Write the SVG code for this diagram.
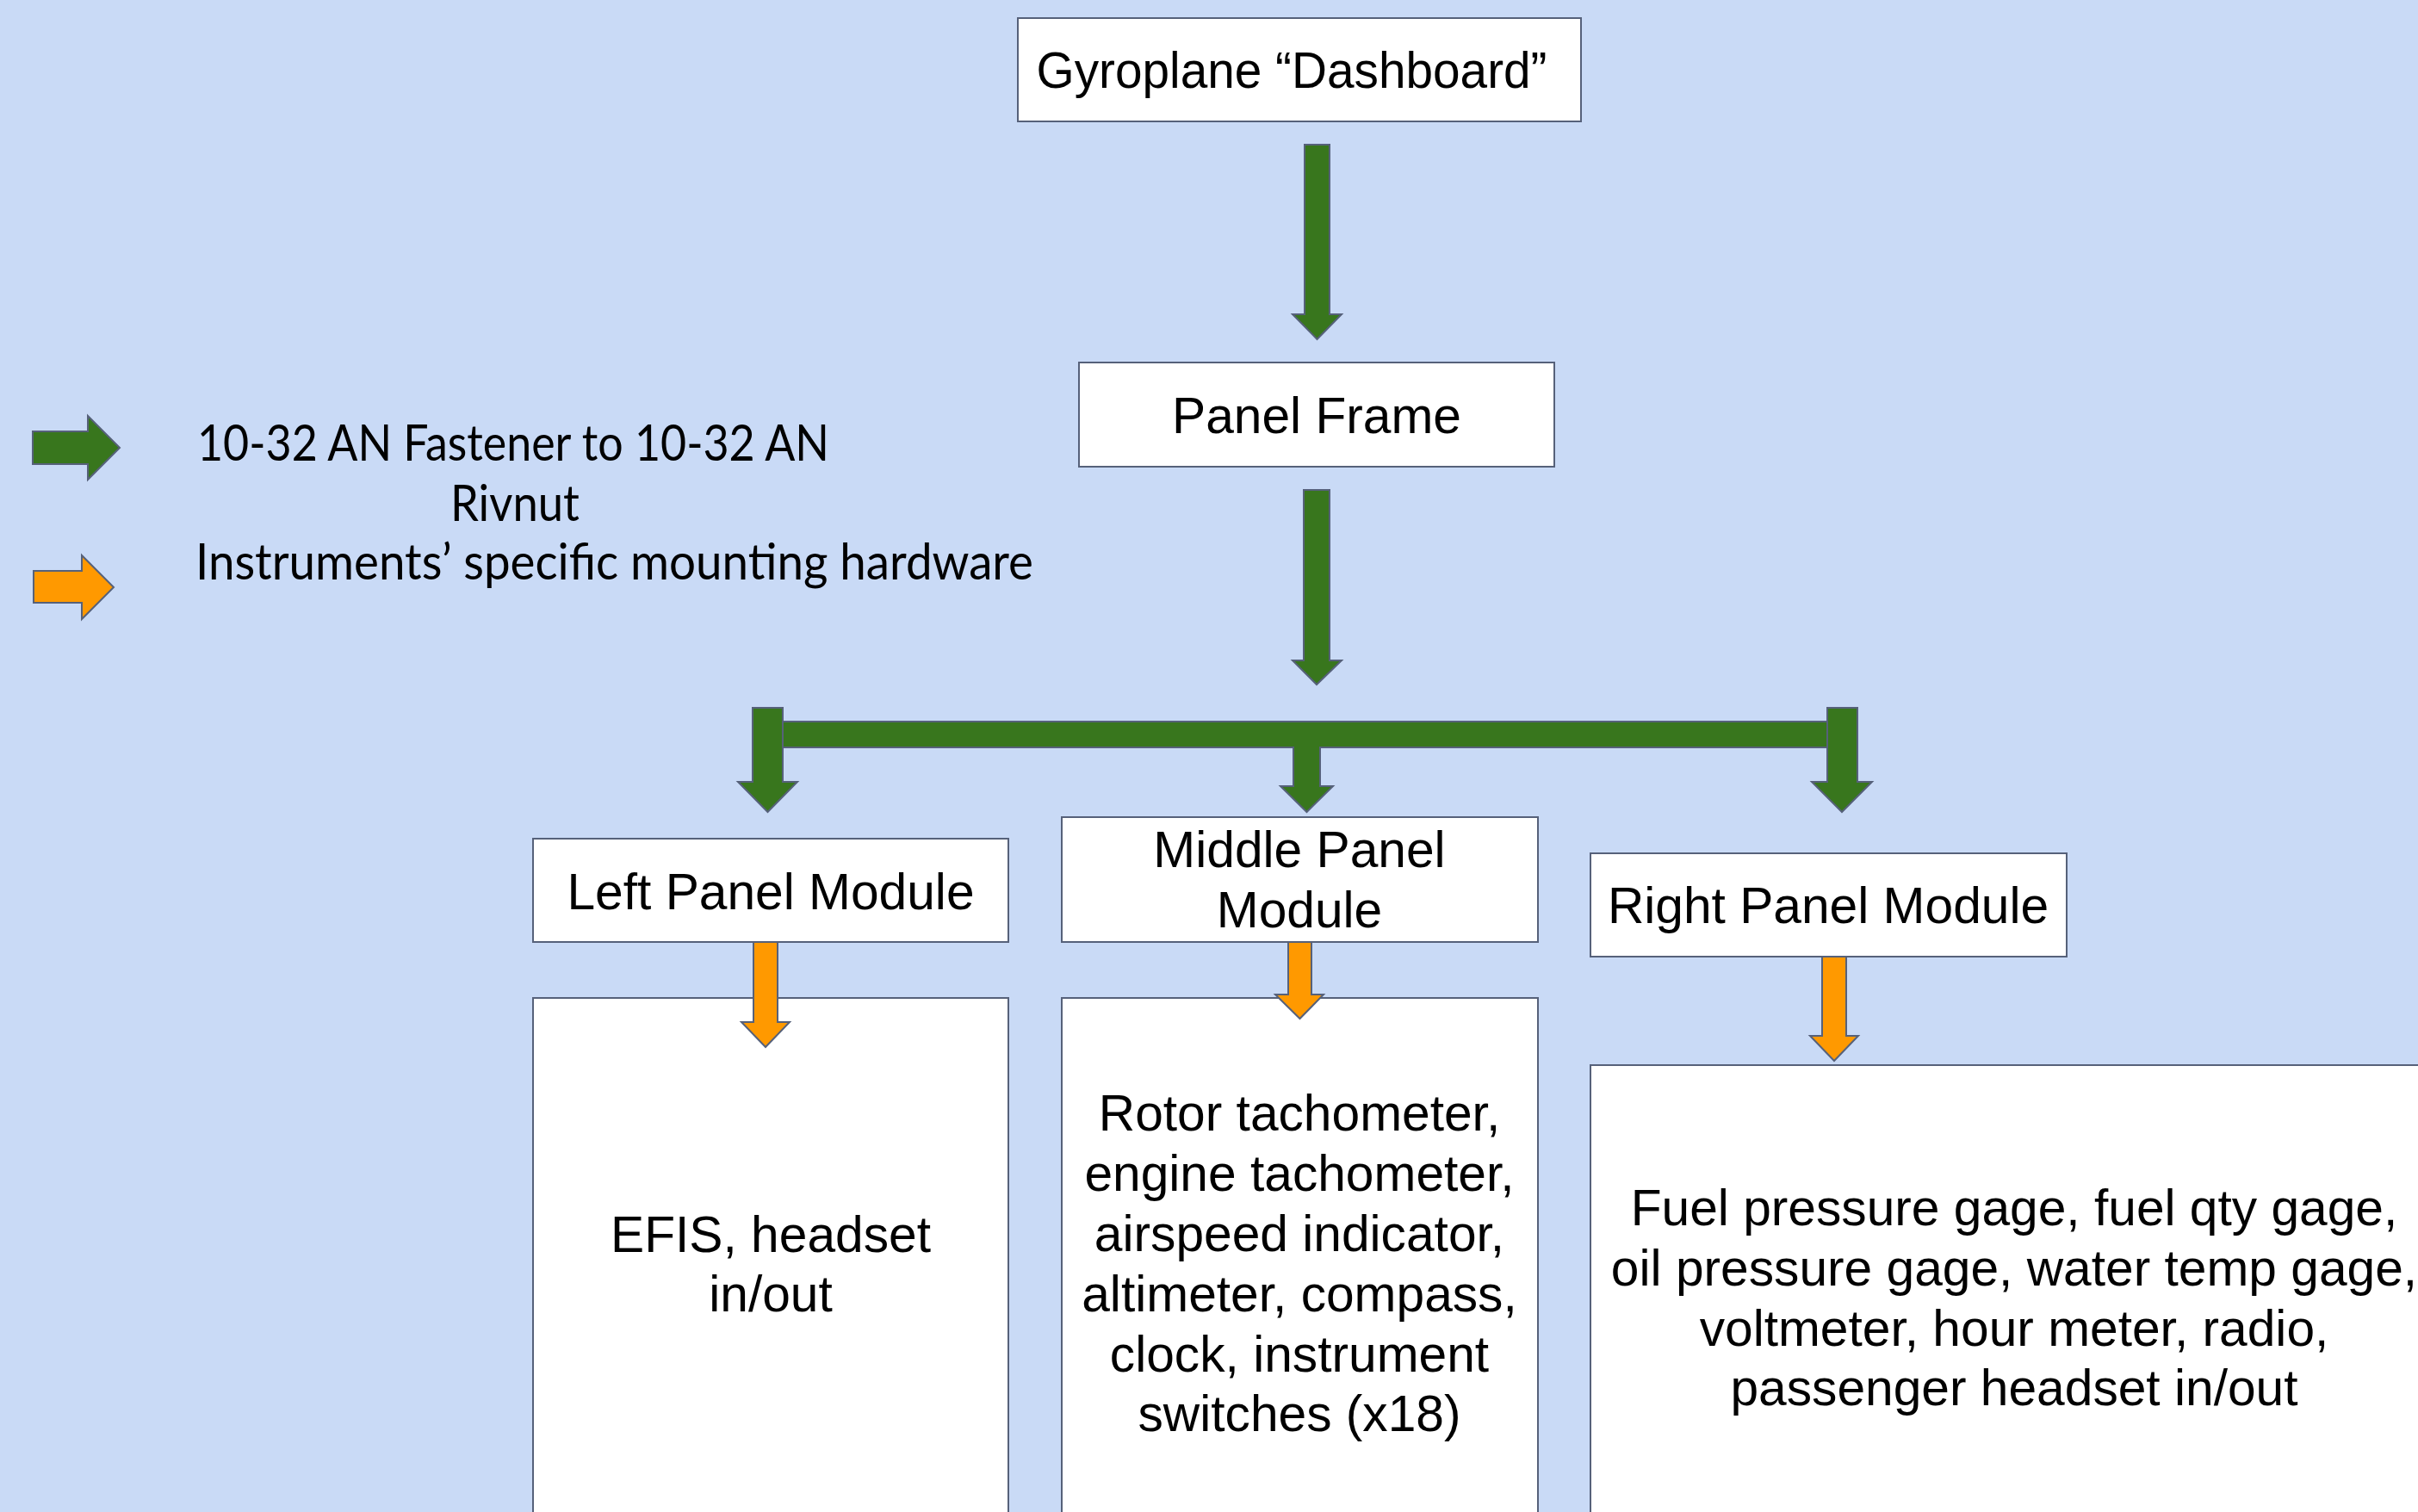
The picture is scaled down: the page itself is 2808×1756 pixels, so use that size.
<svg xmlns="http://www.w3.org/2000/svg" width="2808" height="1756" viewBox="0 0 2808 1756">
  <style>
    .box { fill: #ffffff; stroke: #56617a; stroke-width: 2; }
    .lbl { font-family: "Liberation Sans", Arial, sans-serif; font-size: 58.7px; fill: #000000; text-anchor: middle; }
    .leg { font-family: Lato, "Open Sans", sans-serif; font-size: 58px; fill: #000000; }
    .green { fill: #38761d; stroke: #56617a; stroke-width: 2; stroke-linejoin: miter; }
    .orange { fill: #ff9900; stroke: #56617a; stroke-width: 2; stroke-linejoin: miter; }
  </style>

  <!-- page background -->
  <rect x="0" y="0" width="2808" height="1756" fill="#c9daf6"/>

  <!-- legend -->
  <g id="legend">
    <polygon class="green" points="38,501 102,501 102,483 139,520 102,557 102,539 38,539"/>
    <polygon class="orange" points="39,663 95,663 95,645 132,682 95,719 95,700 39,700"/>
    <text class="leg" x="229" y="535" textLength="734" lengthAdjust="spacingAndGlyphs">10-32 AN Fastener to 10-32 AN</text>
    <text class="leg" x="523" y="605" textLength="150" lengthAdjust="spacingAndGlyphs">Rivnut</text>
    <text class="leg" x="227" y="673" textLength="973" lengthAdjust="spacingAndGlyphs">Instruments’ specific mounting hardware</text>
  </g>

  <!-- nodes -->
  <g id="dashboard">
    <rect class="box" x="1182" y="21" width="654" height="120"/>
    <text class="lbl" x="1500" y="102" textLength="593" lengthAdjust="spacingAndGlyphs">Gyroplane “Dashboard”</text>
  </g>
  <g id="panel-frame">
    <rect class="box" x="1253" y="421" width="552" height="121"/>
    <text class="lbl" x="1529" y="503">Panel Frame</text>
  </g>
  <g id="left-module">
    <rect class="box" x="619" y="974" width="552" height="120"/>
    <text class="lbl" x="895" y="1056">Left Panel Module</text>
  </g>
  <g id="middle-module">
    <rect class="box" x="1233" y="949" width="553" height="145"/>
    <text class="lbl" x="1509" y="1007">Middle Panel</text>
    <text class="lbl" x="1509" y="1077">Module</text>
  </g>
  <g id="right-module">
    <rect class="box" x="1847" y="991" width="553" height="120"/>
    <text class="lbl" x="2123" y="1072">Right Panel Module</text>
  </g>
  <g id="left-instruments">
    <rect class="box" x="619" y="1159" width="552" height="650"/>
    <text class="lbl" x="895" y="1454">EFIS, headset</text>
    <text class="lbl" x="895" y="1523">in/out</text>
  </g>
  <g id="middle-instruments">
    <rect class="box" x="1233" y="1159" width="553" height="650"/>
    <text class="lbl" x="1509" y="1313">Rotor tachometer,</text>
    <text class="lbl" x="1509" y="1383">engine tachometer,</text>
    <text class="lbl" x="1509" y="1453">airspeed indicator,</text>
    <text class="lbl" x="1509" y="1523">altimeter, compass,</text>
    <text class="lbl" x="1509" y="1593">clock, instrument</text>
    <text class="lbl" x="1509" y="1662">switches (x18)</text>
  </g>
  <g id="right-instruments">
    <rect class="box" x="1847" y="1237" width="984" height="572"/>
    <text class="lbl" x="2339" y="1423">Fuel pressure gage, fuel qty gage,</text>
    <text class="lbl" x="2339" y="1493">oil pressure gage, water temp gage,</text>
    <text class="lbl" x="2339" y="1563">voltmeter, hour meter, radio,</text>
    <text class="lbl" x="2339" y="1632">passenger headset in/out</text>
  </g>

  <!-- connectors -->
  <g id="connectors">
    <polygon class="green" points="1515,168 1544,168 1544,365 1558,365 1529.5,394 1501,365 1515,365"/>
    <polygon class="green" points="1514,569 1544,569 1544,767 1558,767 1529,795 1501,767 1514,767"/>
    <polygon class="green" points="909,838 2122,838 2122,868 1533,868 1533,913 1548,913 1517.5,943 1487,913 1502,913 1502,868 909,868"/>
    <polygon class="green" points="874,822 909,822 909,908 926,908 891.5,943 857,908 874,908"/>
    <polygon class="green" points="2122,822 2157,822 2157,908 2174,908 2139,943 2104,908 2122,908"/>
    <polygon class="orange" points="875,1094 903,1094 903,1187 917,1187 889,1216 861,1187 875,1187"/>
    <polygon class="orange" points="1496,1094 1523,1094 1523,1155 1537,1155 1509.5,1183 1481,1155 1496,1155"/>
    <polygon class="orange" points="2116,1111 2144,1111 2144,1203 2158,1203 2130,1232 2102,1203 2116,1203"/>
  </g>
</svg>
